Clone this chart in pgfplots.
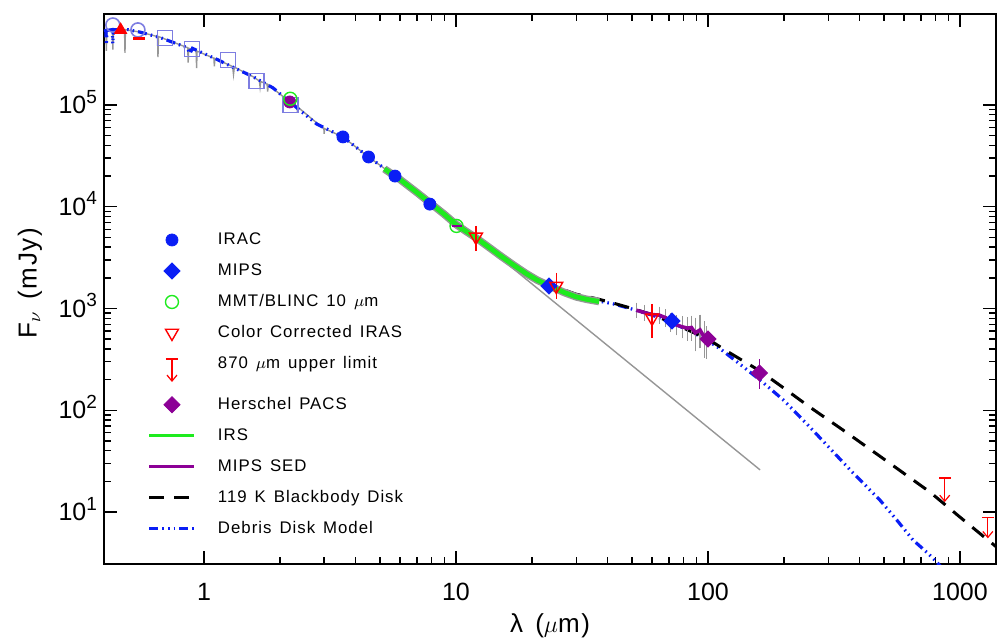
\documentclass[border=0pt]{standalone}
\usepackage{pgfplots}
\pgfplotsset{compat=1.18}
\usepackage{fontspec}
\setmainfont{Liberation Sans}
\newfontfamily\widefont{Liberation Sans}[LetterSpace=6, WordSpace=1.4]
\usetikzlibrary{arrows.meta}

\definecolor{lav}{RGB}{125,125,225}
\definecolor{irsgreen}{RGB}{30,235,30}
\definecolor{purp}{RGB}{140,0,150}
\definecolor{mblue}{RGB}{10,30,245}
\definecolor{band}{RGB}{150,150,150}

\newcommand\tp[1]{10\raisebox{0.42em}{\fontsize{9.5}{9.5}\selectfont #1}}

% stellar model with absorption lines (grey) -> Rayleigh-Jeans tail
\pgfplotstableread{
x y
0.401 5.3e5
0.408 5.4e5
0.410 3.4e5
0.412 5.4e5
0.433 5.5e5
0.435 3.5e5
0.437 5.5e5
0.484 5.5e5
0.486 3.25e5
0.488 5.5e5
0.557 5.2e5
0.654 4.7e5
0.657 2.95e5
0.660 4.7e5
0.862 3.65e5
0.866 2.6e5
0.870 3.6e5
0.931 3.4e5
0.935 2.3e5
0.939 3.38e5
1.095 2.88e5
1.100 2.4e5
1.105 2.86e5
1.30 2.38e5
1.31 2.0e5
1.32 2.35e5
1.563 1.9e5
1.66 1.72e5
1.67 1.5e5
1.68 1.7e5
1.78 1.6e5
1.79 1.35e5
1.80 1.58e5
2.19 1.07e5
2.34 9.6e4
2.35 8.5e4
2.36 9.5e4
2.88 6.3e4
2.99 5.9e4
3.00 5.2e4
3.01 5.85e4
3.56 4.85e4
4.5 3.08e4
5.73 2.0e4
7.88 1.06e4
10 6.7e3
12 4.9e3
161 25.9
}\photo

% debris disk model
\pgfplotstableread{
x y
0.401 5.3e5
0.408 5.4e5
0.410 3.9e5
0.412 5.4e5
0.433 5.5e5
0.435 4.0e5
0.437 5.5e5
0.47 5.5e5
0.50 5.5e5
0.557 5.2e5
0.669 4.6e5
0.857 3.66e5
0.88 3.2e5
0.90 3.6e5
1.127 2.8e5
1.35 2.25e5
1.563 1.9e5
1.88 1.47e5
2.19 1.07e5
2.8 6.5e4
3.56 4.85e4
4.5 3.08e4
5.73 2.0e4
7.88 1.06e4
10 6.7e3
12 4.95e3
15 3.3e3
18 2.4e3
20 2.05e3
24 1.65e3
30 1.36e3
37 1.18e3
42 1.11e3
49 1.0e3
60 860
70 745
85 600
100 480
112 400
130 300
161 198
200 125
254 68
300 44
366 26
481 13.1
560 8.4
651 5.3
740 4.0
810 3.2
900 2.4
}\debris

% 119 K blackbody disk
\pgfplotstableread{
x y
15 3.3e3
18 2.4e3
20 2.08e3
24 1.68e3
30 1.38e3
35 1.27e3
40 1.17e3
50 1.0e3
60 870
70 745
85 600
100 500
120 375
160 245
200 165
250 110
343 64
500 33
760 15.7
1000 8.9
1234 5.8
1400 4.5
}\bbdisk

% IRS spectrum
\pgfplotstableread{
x y
5.2 2.35e4
6.0 1.85e4
7.0 1.38e4
8.0 1.06e4
9.0 8.4e3
10.0 6.7e3
11.0 5.7e3
12.0 4.95e3
13.5 4.0e3
15.0 3.3e3
17.0 2.65e3
19.0 2.2e3
21.0 1.9e3
24.0 1.63e3
27.0 1.43e3
30.0 1.3e3
33.0 1.23e3
37.0 1.17e3
}\irs

% MIPS SED
\pgfplotstableread{
x y e
52 960 60
56 910 60
60 870 60
64 860 70
68 810 70
71 730 70
75 690 80
79 660 90
83 640 100
86 650 110
89 575 150
93 615 160
97 515 150
99 480 120
}\mipssed

\begin{document}
\begin{tikzpicture}
\begin{loglogaxis}[
    scale only axis,
    width=446pt, height=275pt,
    xmin=0.4012, xmax=1390,
    ymin=3.08, ymax=7.83e5,
    xtick={1,10,100,1000},
    xticklabels={1,10,100,1000},
    ytick={10,100,1000,10000,100000},
    yticklabels={\tp{1},\tp{2},\tp{3},\tp{4},\tp{5}},
    tick align=inside,
    major tick length=6.5pt, minor tick length=3.5pt,
    axis line style={line width=0.8pt},
    every tick/.style={black, line width=0.7pt},
    tick label style={font=\fontsize{12.5}{14}\selectfont},
    xticklabel style={anchor=base, yshift=-18pt},
    yticklabel style={anchor=base east, yshift=-4.3pt},
    xlabel={λ ($\mu$m)},
    ylabel={F$_\nu$ (mJy)},
    label style={font=\widefont\fontsize{13}{15}\selectfont},
    xlabel style={at={(axis description cs:0.5,0)}, anchor=base, yshift=-34pt},
    ylabel style={at={(axis description cs:-0.083,0.51)}, anchor=center},
    legend style={at={(axis description cs:0.0493,0.6055)}, anchor=north west,
        draw=none, fill=none, inner sep=0pt, outer sep=0pt,
        row sep=6.5pt, column sep=11pt,
        font=\widefont\fontsize{8.4}{10}\selectfont,
        nodes={inner sep=0pt, text height=6pt, text depth=1.5pt}},
    legend cell align=left,
    legend image code/.code={
        \draw[mark repeat=2,mark phase=2,#1]
            plot coordinates {(0pt,0pt) (11.25pt,0pt) (22.5pt,0pt)};
        \path[draw=none, fill=none] (0pt,-4.5pt) rectangle (22.5pt,4.5pt);},
]

% legend
\addlegendimage{only marks, mark=*, mark size=3pt, color=mblue}
\addlegendentry{IRAC}
\addlegendimage{only marks, mark=square*, mark size=2.85pt, color=mblue, mark options={rotate=45}}
\addlegendentry{MIPS}
\addlegendimage{only marks, mark=o, mark size=3.25pt, color=irsgreen, mark options={line width=0.7pt}}
\addlegendentry{MMT/BLINC 10 $\mu$m}
\addlegendimage{only marks, mark=triangle, mark size=3.75pt, color=red, mark options={rotate=180, line width=0.7pt}}
\addlegendentry{Color Corrected IRAS}
\addlegendimage{legend image code/.code={
    \draw[red, line width=0.6pt] (8.25pt,2.5pt) -- (14.25pt,2.5pt);
    \draw[red, line width=0.6pt, -{Straight Barb[length=3pt,width=5pt]}] (11.25pt,2.5pt) -- (11.25pt,-9pt);
    \path[draw=none, fill=none] (0pt,-4.5pt) rectangle (22.5pt,4.5pt);}}
\addlegendentry{870 $\mu$m upper limit}
\addlegendimage{only marks, mark=square*, mark size=2.85pt, color=purp, mark options={rotate=45}}
\addlegendentry{Herschel PACS}
\addlegendimage{irsgreen, line width=1.5pt}
\addlegendentry{IRS}
\addlegendimage{purp, line width=1.5pt}
\addlegendentry{MIPS SED}
\addlegendimage{black, line width=1.5pt, dash pattern=on 7.5pt off 5pt}
\addlegendentry{119 K Blackbody Disk}
\addlegendimage{mblue, line width=1.4pt, dash pattern=on 4.5pt off 2pt on 0.8pt off 2pt on 0.8pt off 2pt on 0.8pt off 2pt}
\addlegendentry{Debris Disk Model}

% photosphere
\addplot[forget plot, band, line width=0.7pt] table {\photo};
% models
\addplot[forget plot, mblue, line width=1.6pt, dash pattern=on 4.5pt off 2pt on 0.8pt off 2pt on 0.8pt off 2pt on 0.8pt off 2pt] table {\debris};
\addplot[forget plot, black, line width=1.5pt, dash pattern=on 7.5pt off 5pt] table {\bbdisk};
% IRS
\addplot[forget plot, band, line width=3.8pt] table {\irs};
\addplot[forget plot, irsgreen, line width=2.4pt] table {\irs};
% MIPS SED
\addplot[forget plot, draw=none, mark=none, error bars/.cd, y dir=both, y explicit,
    error bar style={draw=band, line width=0.6pt},
    error mark options={draw=band, mark size=2.5pt, line width=0.6pt}]
    table[x=x, y=y, y error=e] {\mipssed};
\addplot[forget plot, purp, line width=1.8pt] table[x=x, y=y] {\mipssed};

% optical / near-IR photometry
\addplot[forget plot, only marks, mark=o, mark size=3.5pt, color=lav, mark options={line width=0.8pt}]
    coordinates {(0.435,6.1e5) (0.547,5.46e5)};
\addplot[forget plot, only marks, mark=square, mark size=3.75pt, color=lav, mark options={line width=0.8pt}]
    coordinates {(0.70,4.55e5) (0.896,3.55e5) (1.245,2.77e5) (1.62,1.72e5) (2.2,1.0e5)};
\addplot[forget plot, only marks, mark=triangle*, mark size=3.5pt, color=red]
    coordinates {(0.467,5.46e5)};
\addplot[forget plot, only marks, mark=-, mark size=3pt, color=red, mark options={line width=1.5pt}]
    coordinates {(0.552,4.5e5)};
\addplot[forget plot, only marks, mark=*, mark size=3pt, color=purp]
    coordinates {(2.19,1.07e5)};
\addplot[forget plot, only marks, mark=-, mark size=2.5pt, color=purp, mark options={line width=1pt}]
    coordinates {(10.1,6.4e3)};

% MMT/BLINC
\addplot[forget plot, only marks, mark=o, mark size=3.25pt, color=irsgreen, mark options={line width=0.7pt}]
    coordinates {(2.2,1.15e5) (10.05,6.47e3)};
% IRAC
\addplot[forget plot, only marks, mark=*, mark size=3pt, color=mblue]
    coordinates {(3.56,4.85e4) (4.5,3.08e4) (5.73,2.0e4) (7.88,1.06e4)};
% MIPS
\addplot[forget plot, only marks, mark=square*, mark size=2.85pt, color=mblue, mark options={rotate=45}]
    coordinates {(23.4,1.66e3) (72,753)};
% IRAS
\addplot[forget plot, only marks, mark=triangle, mark size=3.75pt, color=red,
    mark options={rotate=180, line width=0.7pt},
    error bars/.cd, y dir=both, y explicit,
    error bar style={red, line width=0.6pt},
    error mark options={red, mark size=3pt, line width=0.6pt}]
    table[x=x, y=y, y error plus=ep, y error minus=em] {
x y ep em
12 5050 600 850
25 1660 290 240
60 807 160 220
};
% upper limits
\addplot[forget plot, only marks, mark=-, mark size=3pt, color=red, mark options={line width=0.6pt},
    error bars/.cd, y dir=minus, y explicit, error mark=none,
    error bar style={red, line width=0.6pt, -{Straight Barb[length=3pt,width=5pt]}}]
    table[x=x, y=y, y error=e] {
x y e
870 21.6 9.1
1290 8.9 3.4
};
% Herschel PACS
\addplot[forget plot, only marks, mark=square*, mark size=2.85pt, color=purp,
    mark options={rotate=45},
    error bars/.cd, y dir=both, y explicit,
    error bar style={purp, line width=0.8pt},
    error mark options={purp, mark size=3pt, line width=0.8pt}]
    table[x=x, y=y, y error=e] {
x y e
100 501 25
160 232 45
};

\coordinate (sw) at (rel axis cs:0,0);
\coordinate (ne) at (rel axis cs:1,1);
\end{loglogaxis}
\pgfresetboundingbox
\path[use as bounding box] ([shift={(-52pt,-36.5pt)}]sw) rectangle ([shift={(0.5pt,7pt)}]ne);
\end{tikzpicture}
\end{document}
